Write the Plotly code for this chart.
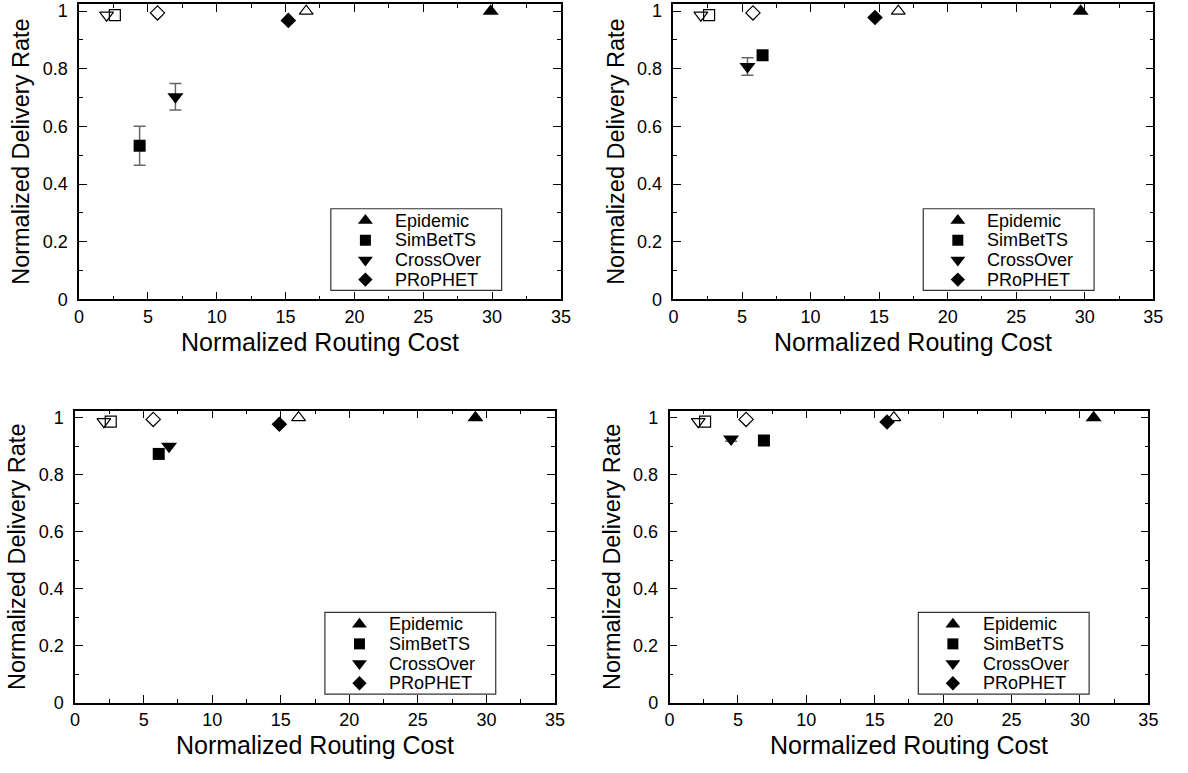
import plotly.graph_objects as go

# ---- data (one entry per panel: top-left, top-right, bottom-left, bottom-right)
epi_x = [29.9, 29.7, 29.2, 31.0]
epi_y = [1.0, 1.0, 1.0, 1.0]
sim_x = [4.4, 6.5, 6.1, 6.9]
sim_y = [0.533, 0.847, 0.873, 0.92]
sim_err = [0.068, 0.0, 0.0, 0.0]
cross_x = [7.0, 5.4, 6.85, 4.5]
cross_y = [0.703, 0.808, 0.90, 0.925]
cross_err = [0.046, 0.03, 0.0, 0.008]
pro_x = [15.2, 14.7, 14.9, 15.9]
pro_y = [0.968, 0.978, 0.977, 0.985]
# hollow markers
h_tri_dn_x = [2.0, 2.0, 2.1, 2.1]
h_tri_dn_y = [0.986, 0.986, 0.986, 0.986]
h_sq_x = [2.6, 2.6, 2.6, 2.6]
h_sq_y = [0.986, 0.986, 0.986, 0.986]
h_dia_x = [5.7, 5.8, 5.7, 5.6]
h_dia_y = [0.994, 0.994, 0.994, 0.994]
h_tri_up_x = [16.5, 16.4, 16.3, 16.4]
h_tri_up_y = [1.0, 1.0, 1.0, 1.0]

series_names = ["Epidemic", "SimBetTS", "CrossOver", "PRoPHET"]
series_symbols = ["triangle-up", "square", "triangle-down", "diamond"]
series_sizes = [14, 12, 14, 12]

x_ticks = [0, 5, 10, 15, 20, 25, 30, 35]
y_ticks = [0, 0.2, 0.4, 0.6, 0.8, 1]

W, H = 1188, 773
# panel pixel boxes: (left, right, top, bottom)
boxes = [(75, 563, 2, 302), (677, 1163, 2, 302), (71, 557, 415, 712), (673, 1158, 415, 712)]

FONT = "Liberation Sans, Arial, sans-serif"
ERR_COLOR = "#666666"
fig = go.Figure()

for i in range(4):
    xa = "x" if i == 0 else f"x{i+1}"
    ya = "y" if i == 0 else f"y{i+1}"

    def add(x, y, sym, size, err=None, hollow=False):
        if hollow:
            marker = dict(symbol=sym + "-open", size=size, color="black", line=dict(width=1.2))
        else:
            marker = dict(symbol=sym, size=size, color="black", line=dict(width=0))
        kw = {}
        if err is not None and err > 0:
            kw["error_y"] = dict(type="data", array=[err], visible=True,
                                 color=ERR_COLOR, thickness=1.5, width=6)
        fig.add_trace(go.Scatter(x=[x], y=[y], mode="markers", marker=marker,
                                 showlegend=False, xaxis=xa, yaxis=ya,
                                 cliponaxis=False, **kw))

    add(h_tri_dn_x[i], h_tri_dn_y[i], "triangle-down", 12, hollow=True)
    add(h_sq_x[i], h_sq_y[i], "square", 11, hollow=True)
    add(h_dia_x[i], h_dia_y[i], "diamond", 11, hollow=True)
    add(h_tri_up_x[i], h_tri_up_y[i], "triangle-up", 12, hollow=True)

    add(epi_x[i], epi_y[i], series_symbols[0], series_sizes[0])
    add(sim_x[i], sim_y[i], series_symbols[1], series_sizes[1], err=sim_err[i])
    add(cross_x[i], cross_y[i], series_symbols[2], series_sizes[2], err=cross_err[i])
    add(pro_x[i], pro_y[i], series_symbols[3], series_sizes[3])

layout = dict(width=W, height=H, margin=dict(l=0, r=0, t=0, b=0),
              plot_bgcolor="rgba(0,0,0,0)", paper_bgcolor="white",
              font=dict(family=FONT, size=18, color="black"), showlegend=False)

shapes = []
annotations = []
leg_x, leg_y, leg_sym, leg_size = [], [], [], []
for i, (l, r, t, b) in enumerate(boxes):
    sx = "" if i == 0 else str(i + 1)
    layout[f"xaxis{sx}"] = dict(
        domain=[l / W, r / W], anchor=f"y{sx}", range=[0, 35],
        tickvals=x_ticks, ticks="inside", ticklen=8, tickwidth=1,
        tickcolor="black", showline=True, linecolor="black", linewidth=1.5,
        mirror="allticks", showgrid=False, zeroline=False,
        minor=dict(dtick=2.5, ticks="inside", ticklen=4, tickcolor="black", showgrid=False),
        tickfont=dict(size=18), ticklabelstandoff=0)
    layout[f"yaxis{sx}"] = dict(
        domain=[1 - b / H, 1 - t / H], anchor=f"x{sx}", range=[0, 1.025],
        tickvals=y_ticks, ticks="inside", ticklen=8, tickwidth=1,
        tickcolor="black", showline=True, linecolor="black", linewidth=1.5,
        mirror="allticks", showgrid=False, zeroline=False,
        minor=dict(dtick=0.1, ticks="inside", ticklen=4, tickcolor="black", showgrid=False),
        tickfont=dict(size=18), ticklabelstandoff=6,
        title=dict(text="Normalized Delivery Rate", font=dict(size=23.5), standoff=6))

    # x-axis title as annotation
    annotations.append(dict(x=(l + r) / 2 / W, y=1 - (b + 43) / H, xref="paper", yref="paper",
                            text="Normalized Routing Cost", showarrow=False,
                            xanchor="center", yanchor="middle", borderpad=0,
                            font=dict(size=25, family=FONT)))

    # manual legend box
    bx1, by1 = r - 60, b - 9
    bx0, by0 = bx1 - 173, by1 - 83
    shapes.append(dict(type="rect", xref="paper", yref="paper",
                       x0=bx0 / W, x1=bx1 / W, y0=1 - by1 / H, y1=1 - by0 / H,
                       line=dict(color="#333333", width=1.2),
                       fillcolor="rgba(0,0,0,0)", layer="above"))
    for k in range(4):
        cy = by0 + 12 + k * 20
        leg_x.append(bx0 + 35)
        leg_y.append(cy)
        leg_sym.append(series_symbols[k])
        leg_size.append(series_sizes[k] - 1)
        annotations.append(dict(x=(bx0 + 64) / W, y=1 - cy / H, xref="paper", yref="paper",
                                text=series_names[k], showarrow=False, xanchor="left",
                                yanchor="middle", borderpad=0,
                                font=dict(size=18, family=FONT)))

fig.add_trace(go.Scatter(x=leg_x, y=leg_y, mode="markers", xaxis="x5", yaxis="y5",
                         marker=dict(symbol=leg_sym, size=leg_size, color="black",
                                     opacity=1, line=dict(width=0)),
                         showlegend=False, hoverinfo="skip", cliponaxis=False))
layout["xaxis5"] = dict(domain=[0, 1], range=[0, W], visible=False, anchor="y5",
                        fixedrange=True)
layout["yaxis5"] = dict(domain=[0, 1], range=[H, 0], visible=False, anchor="x5",
                        fixedrange=True)
layout["shapes"] = shapes
layout["annotations"] = annotations

fig.update_layout(**layout)
fig.write_html("out.html")
